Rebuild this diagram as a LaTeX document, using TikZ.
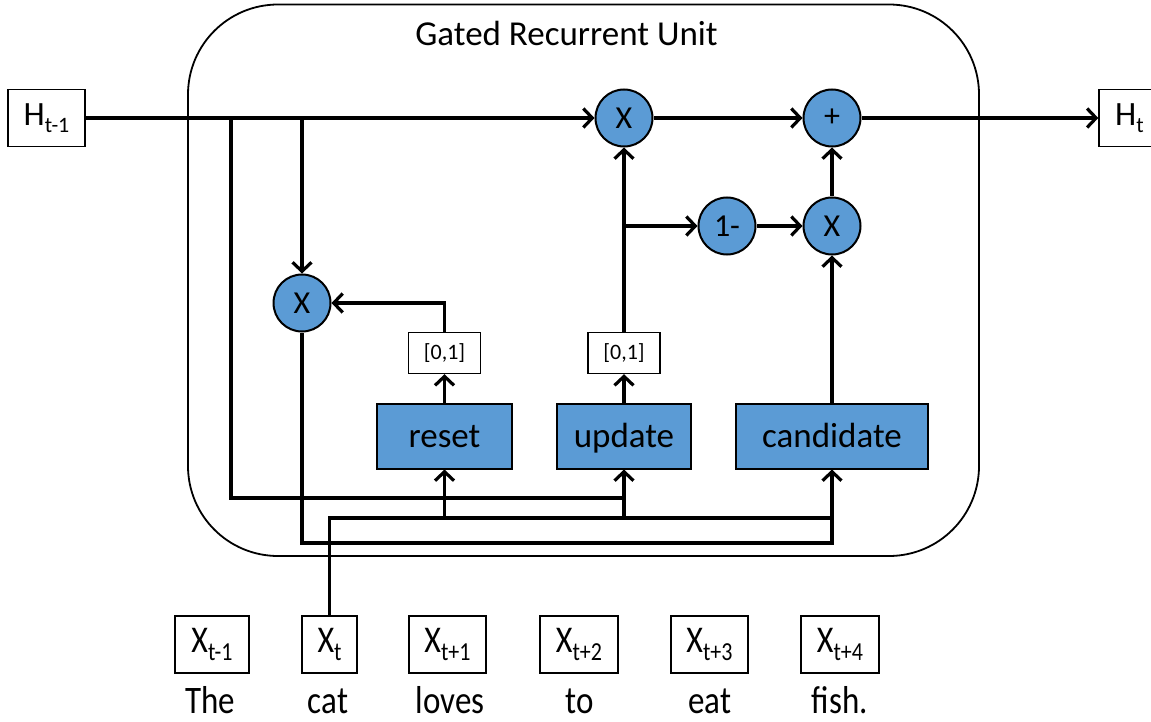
\documentclass[tikz,border=0pt]{standalone}
\usepackage{fontspec}
\setmainfont{Carlito}
\usepackage{graphicx}
\usetikzlibrary{arrows.meta}
\definecolor{gateblue}{RGB}{91,155,213}
% lowered, smaller index text
\newcommand\lowsub[1]{\raisebox{-0.2em}{\fontsize{22}{22}\selectfont #1}}
% bottom row is set slightly taller than wide
\newcommand\tallrow[1]{\scalebox{1}[1.18]{#1}}

\begin{document}
\begin{tikzpicture}[x=1pt,y=-1pt,
  wire/.style={line width=3.2pt},
  flow/.style={wire,-{Straight Barb[length=9pt,width=19pt]}},
  op/.style={circle,draw,line width=2pt,fill=gateblue,minimum size=57pt,
    inner sep=0pt,font=\fontsize{32}{34}\selectfont},
  gatebox/.style={rectangle,draw,line width=2pt,fill=gateblue,
    minimum height=65pt,inner sep=0pt,text height=26pt,text depth=4pt,
    font=\fontsize{35}{40}\selectfont},
  squash/.style={rectangle,draw,line width=1.4pt,fill=white,minimum width=72pt,
    minimum height=41pt,inner sep=0pt,font=\fontsize{22}{24}\selectfont},
  hbox/.style={rectangle,draw,line width=1.4pt,minimum height=57pt,inner sep=0pt,
    font=\fontsize{34}{40}\selectfont},
  token/.style={hbox,font=\fontsize{32}{38}\selectfont},
  word/.style={anchor=base,inner sep=0pt,font=\fontsize{33}{40}\selectfont},
]
\useasboundingbox (0,0) rectangle (1151,722);

% unit frame and title
\draw[line width=1.8pt,rounded corners=90pt] (188,4.5) rectangle (979,556);
\node[anchor=base,inner sep=0pt,font=\fontsize{35}{40}\selectfont] (title) at (566.5,46) {Gated Recurrent Unit};

% hidden states
\node[hbox,minimum width=77pt] (hprev) at (46.5,118) {H\lowsub{t-1}};
\node[hbox,minimum width=61pt] (hnext) at (1129.5,118) {H\lowsub{t}};

% pointwise operations
\node[op] (mulTop) at (624,118) {X};
\node[op] (add) at (832,118) {+};
\node[op] (oneminus) at (727,226) {1-};
\node[op] (mulR) at (832,226) {X};
\node[op] (mulL) at (302,303) {X};

% gate outputs squashed to [0,1]
\node[squash] (rng1) at (444.5,353) {[0,1]};
\node[squash] (rng2) at (624,353) {[0,1]};

% gate layers
\node[gatebox,minimum width=135pt] (reset) at (444.5,436) {reset};
\node[gatebox,minimum width=134pt] (update) at (624,436) {update};
\node[gatebox,minimum width=192pt] (cand) at (832,436) {candidate};

% input sequence
\node[token,minimum width=74pt] (x0) at (212,644.5) {\tallrow{X\lowsub{t-1}}};
\node[token,minimum width=55pt] (x1) at (329.5,644.5) {\tallrow{X\lowsub{t}}};
\node[token,minimum width=77pt] (x2) at (447.5,644.5) {\tallrow{X\lowsub{t+1}}};
\node[token,minimum width=78pt] (x3) at (579,644.5) {\tallrow{X\lowsub{t+2}}};
\node[token,minimum width=77pt] (x4) at (709.5,644.5) {\tallrow{X\lowsub{t+3}}};
\node[token,minimum width=78pt] (x5) at (840,644.5) {\tallrow{X\lowsub{t+4}}};

\node[word] (w0) at (210,713) {\tallrow{The}};
\node[word] (w1) at (328,713) {\tallrow{cat}};
\node[word] (w2) at (450,713) {\tallrow{loves}};
\node[word] (w3) at (580,713) {\tallrow{to}};
\node[word] (w4) at (710,713) {\tallrow{eat}};
\node[word] (w5) at (840,713) {\tallrow{fish.}};

% junctions and bus levels
\coordinate (j1) at (231,118);
\coordinate (j2) at (302,118);
\coordinate (busA) at (624,498);
\coordinate (yB) at (0,518);
\coordinate (yC) at (0,543);

% previous state path
\draw[flow] (hprev.east) -- (mulTop.west);
\draw[wire] (j1) |- (busA);
\draw[flow] (j2) -- (mulL.north);

% current input bus
\draw[wire] (x1.north) |- (cand.south |- yB);
\draw[flow] (reset.south |- yB) -- (reset.south);
\draw[flow] (update.south |- yB) -- (update.south);

% reset-scaled state into candidate
\draw[flow] (mulL.south) |- (cand.south |- yC) -- (cand.south);

% reset gate
\draw[flow] (reset.north) -- (rng1.south);
\draw[flow] (rng1.north) |- (mulL.east);

% update gate
\draw[flow] (update.north) -- (rng2.south);
\draw[flow] (rng2.north) -- (mulTop.south);
\draw[flow] (update.north |- oneminus) -- (oneminus.west);
\draw[flow] (oneminus.east) -- (mulR.west);

% candidate mix and output
\draw[flow] (cand.north) -- (mulR.south);
\draw[flow] (mulR.north) -- (add.south);
\draw[flow] (mulTop.east) -- (add.west);
\draw[flow] (add.east) -- (hnext.west);
\end{tikzpicture}
\end{document}
